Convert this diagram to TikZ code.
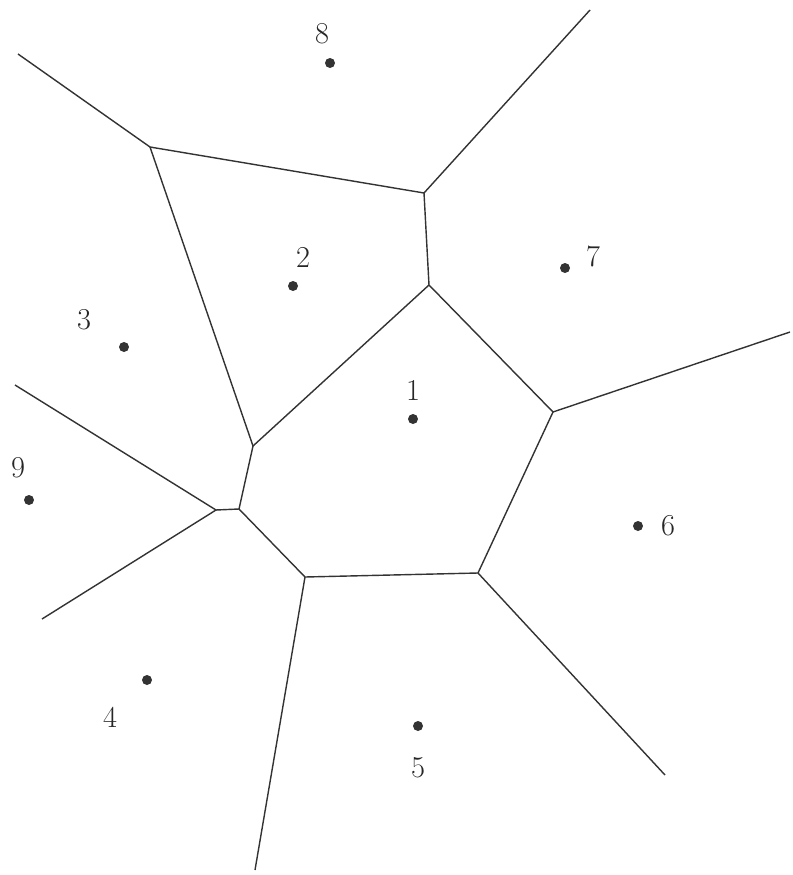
\documentclass[tikz,border=0pt]{standalone}
\usepackage{tikz}

\tikzset{
  edge/.style={line width=0.8pt,black!80},
  site/.style={circle,fill=black!80,inner sep=0pt,minimum size=0.2cm},
  num/.style={font=\LARGE,text=black!85}
}

\begin{document}
\begin{tikzpicture}[x=0.02cm,y=-0.02cm]
        \useasboundingbox (0,0) rectangle (792,875);
        % vertices
        \coordinate (a) at (150,147);
        \coordinate (b) at (424,193);
        \coordinate (c) at (429,285);
        \coordinate (d) at (253,446);
        \coordinate (e) at (553,412);
        \coordinate (f) at (478,573);
        \coordinate (g) at (305,577);
        \coordinate (h) at (239,509);
        \coordinate (i) at (216,510);
        % far ends
        \coordinate (ra) at (18,54);
        \coordinate (rb) at (590,10);
        \coordinate (re) at (790,332);
        \coordinate (rf) at (665,775);
        \coordinate (rg) at (255,870);
        \coordinate (ri1) at (15,385);
        \coordinate (ri2) at (42,619);
        % edges
        \draw[edge] (ra) -- (a) -- (b) -- (rb);
        \draw[edge] (a) -- (d);
        \draw[edge] (b) -- (c) -- (d) -- (h) -- (g) -- (f) -- (e) -- (c);
        \draw[edge] (e) -- (re);
        \draw[edge] (f) -- (rf);
        \draw[edge] (g) -- (rg);
        \draw[edge] (ri1) -- (i) -- (ri2);
        \draw[edge] (i) -- (h);
        % sites
        \node[site] (s1) at (413,419) {};
        \node[site] (s2) at (293,286) {};
        \node[site] (s3) at (124,347) {};
        \node[site] (s4) at (147,680) {};
        \node[site] (s5) at (418,726) {};
        \node[site] (s6) at (638,526) {};
        \node[site] (s7) at (565,268) {};
        \node[site] (s8) at (330,63) {};
        \node[site] (s9) at (29,500) {};
        \node[num] at (413,390) {1};
        \node[num] at (303,257) {2};
        \node[num] at (84,320) {3};
        \node[num] at (110,717) {4};
        \node[num] at (418,768) {5};
        \node[num] at (668,526) {6};
        \node[num] at (593,256) {7};
        \node[num] at (322,34) {8};
        \node[num] at (18,468) {9};
    \end{tikzpicture}
\end{document}
